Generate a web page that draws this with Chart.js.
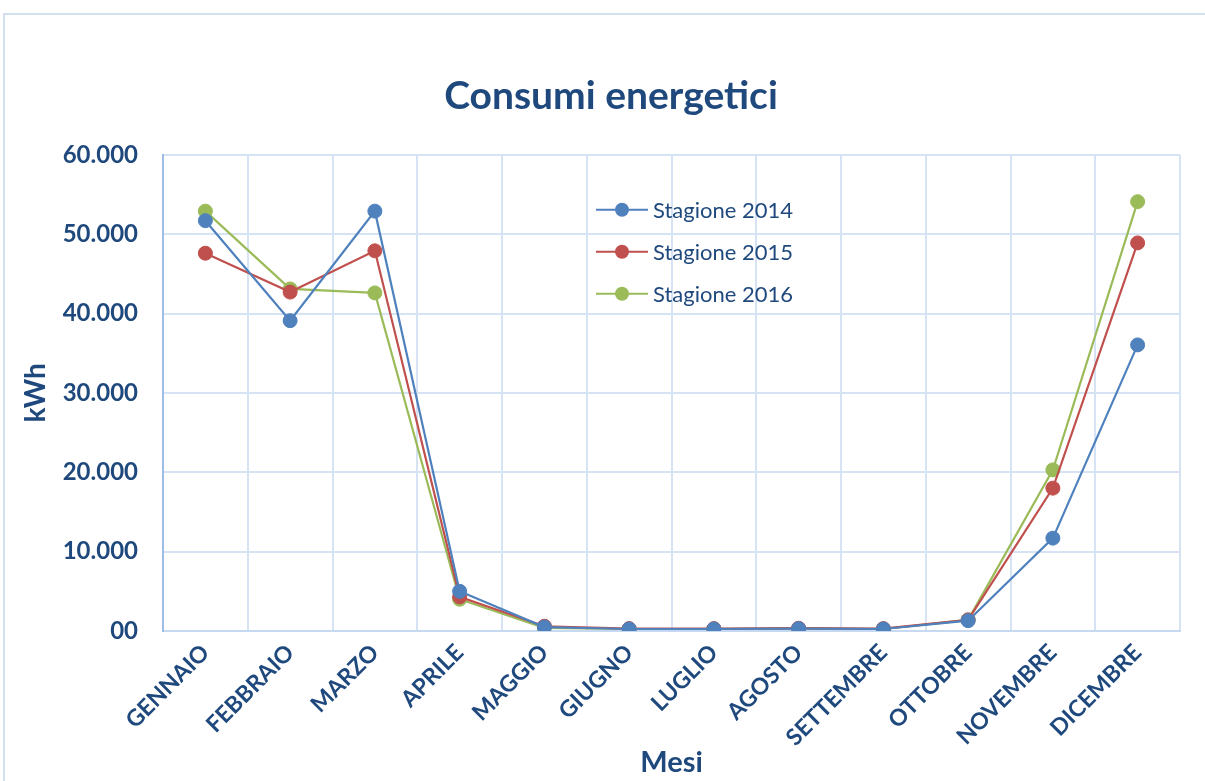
<!DOCTYPE html>
<html>
<head>
<meta charset="utf-8">
<script src="https://cdn.jsdelivr.net/npm/chart.js@4/dist/chart.umd.min.js"></script>
<style>
    html, body { margin: 0; padding: 0; background: #fff; }
    #wrap { position: relative; width: 1205px; height: 781px; }
    #frame { position: absolute; left: 3px; top: 13px; width: 1220px; height: 800px;
             border-left: 2px solid #d5e0ee; border-top: 2px solid #d5e0ee; }
    canvas { position: absolute; left: 0; top: 0; }
</style>
</head>
<body>
<div id="wrap">
    <div id="frame"></div>
    <canvas id="chart" width="1205" height="781"></canvas>
</div>
<script>
const months = ["GENNAIO", "FEBBRAIO", "MARZO", "APRILE", "MAGGIO", "GIUGNO",
    "LUGLIO", "AGOSTO", "SETTEMBRE", "OTTOBRE", "NOVEMBRE", "DICEMBRE"]

const season2014 = [51700, 39100, 52900, 5000, 500, 250, 250, 300, 250, 1300, 11700, 36050]
const season2015 = [47600, 42700, 47900, 4300, 600, 300, 300, 350, 300, 1400, 18000, 48900]
const season2016 = [52900, 43100, 42600, 4000, 400, 250, 250, 300, 250, 1400, 20300, 54100]

const seriesNames = ["Stagione 2014", "Stagione 2015", "Stagione 2016"]
const seriesColors = ["#4f81bd", "#c0504d", "#9bbb59"]

const yTicks = [0, 10000, 20000, 30000, 40000, 50000, 60000]

const textColor = "#1f497d"
const fontFamily = "Lato, 'Open Sans', sans-serif"

function formatThousands(v) {
    if (v == 0) return "00"
    return String(v).replace(/\B(?=(\d{3})+(?!\d))/g, ".")
}

// legend sits inside the plot, like the original
const insideLegend = {
    id: "insideLegend",
    afterLayout(chart) {
        // title is centred a bit right of the canvas middle in the original
        if (chart.titleBlock) chart.titleBlock.left += 42
    },
    afterDatasetsDraw(chart) {
        const ctx = chart.ctx
        const area = chart.chartArea
        const x0 = area.left + 433
        const y0 = area.top + 55
        ctx.save()
        chart.data.datasets.forEach((ds, i) => {
            const y = y0 + i * 42
            ctx.strokeStyle = ds.borderColor
            ctx.lineWidth = 2
            ctx.beginPath()
            ctx.moveTo(x0, y)
            ctx.lineTo(x0 + 52, y)
            ctx.stroke()
            ctx.fillStyle = ds.backgroundColor
            ctx.beginPath()
            ctx.arc(x0 + 26, y, 7, 0, Math.PI * 2)
            ctx.fill()
            ctx.fillStyle = textColor
            ctx.font = "22px " + fontFamily
            ctx.textBaseline = "middle"
            ctx.textAlign = "left"
            ctx.fillText(ds.label, x0 + 57, y + 1)
        })
        ctx.restore()
    }
}

function makeDataset(label, values, color) {
    return {
        label: label,
        data: values,
        borderColor: color,
        backgroundColor: color,
        borderWidth: 2.2,
        pointRadius: 7,
        pointHoverRadius: 7,
        pointBorderWidth: 1,
        tension: 0
    }
}

window.addEventListener("DOMContentLoaded", () => {
    const ctx = document.querySelector("#chart")
    const datasets = [
        makeDataset(seriesNames[0], season2014, seriesColors[0]),
        makeDataset(seriesNames[1], season2015, seriesColors[1]),
        makeDataset(seriesNames[2], season2016, seriesColors[2])
    ]

    new Chart(ctx, {
        type: "line",
        data: { labels: months, datasets: datasets },
        plugins: [insideLegend],
        options: {
            responsive: false,
            animation: false,
            layout: { padding: { left: 0, right: 25, top: 0, bottom: 0 } },
            plugins: {
                legend: { display: false },
                tooltip: { enabled: false },
                title: {
                    display: true,
                    text: "Consumi energetici",
                    color: textColor,
                    font: { family: fontFamily, size: 39, weight: "bold" },
                    padding: { top: 73, bottom: 35 }
                }
            },
            scales: {
                x: {
                    offset: true,
                    grid: { offset: true, color: "#d6e3f4", lineWidth: 2, drawTicks: false },
                    border: { color: "#c6d9f1", width: 2 },
                    ticks: {
                        color: textColor,
                        font: { family: fontFamily, size: 23, weight: "bold" },
                        maxRotation: 45,
                        minRotation: 45,
                        padding: 8,
                        autoSkip: false
                    },
                    title: {
                        display: true,
                        text: "Mesi",
                        color: textColor,
                        font: { family: fontFamily, size: 29, weight: "bold" },
                        padding: { top: 0, bottom: 1 }
                    },
                    afterFit(scale) { scale.height = 150 }
                },
                y: {
                    min: 0,
                    max: 60000,
                    afterBuildTicks(scale) { scale.ticks = yTicks.map(v => ({ value: v })) },
                    grid: { color: "#d6e3f4", lineWidth: 2, drawTicks: false },
                    border: { color: "#9dbde6", width: 2 },
                    ticks: {
                        color: textColor,
                        font: { family: fontFamily, size: 24, weight: "bold" },
                        padding: 25,
                        callback: (v) => formatThousands(v)
                    },
                    title: {
                        display: true,
                        text: "kWh",
                        color: textColor,
                        font: { family: fontFamily, size: 28, weight: "bold" },
                        padding: { top: 19, bottom: 0 }
                    },
                    afterFit(scale) { scale.width = 163 }
                }
            }
        }
    })
})
</script>
</body>
</html>
